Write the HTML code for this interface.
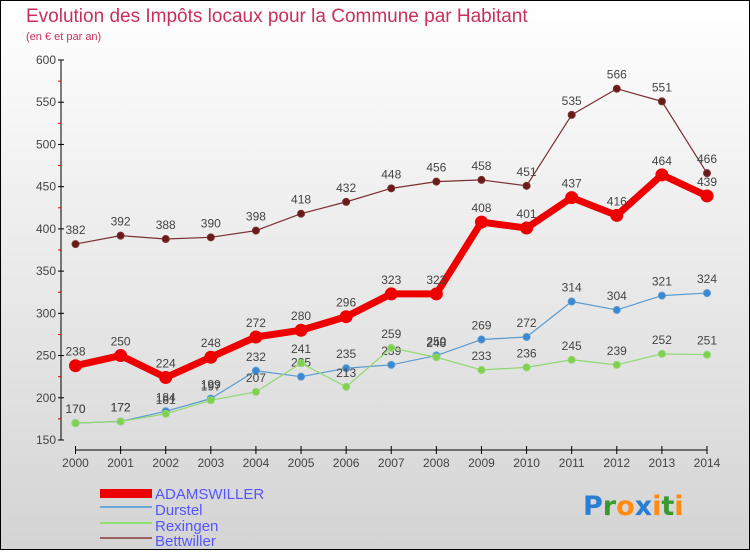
<!DOCTYPE html>
<html><head><meta charset="utf-8"><style>
body{margin:0}
#c{width:750px;height:550px;position:relative;font-family:"Liberation Sans",sans-serif}
</style></head><body>
<div id="c">
<svg width="750" height="550" id="svg">
<defs><linearGradient id="bg" x1="0" y1="0" x2="0" y2="1"><stop offset="0" stop-color="#ffffff"/><stop offset="1" stop-color="#d4d4d4"/></linearGradient></defs>
<rect x="0.5" y="0.5" width="749" height="549" fill="url(#bg)" stroke="#000"/>
<text x="26" y="22" font-size="19" fill="#c8305a">Evolution des Impôts locaux pour la Commune par Habitant</text>
<text x="26" y="40" font-size="11" fill="#c8305a">(en € et par an)</text>
<g id="axes"></g><g id="plot"></g>
<g>
<rect x="100" y="489" width="52" height="9" fill="#ee0000"/>
<text x="155" y="499" font-size="15" fill="#5555ff">ADAMSWILLER</text>
<line x1="100" y1="507" x2="152" y2="507" stroke="#6aa8d8" stroke-width="2"/>
<text x="155" y="515" font-size="15" fill="#5555ff">Durstel</text>
<line x1="100" y1="523" x2="152" y2="523" stroke="#90dd70" stroke-width="2"/>
<text x="155" y="531" font-size="15" fill="#5555ff">Rexingen</text>
<line x1="100" y1="538" x2="152" y2="538" stroke="#9a6060" stroke-width="2"/>
<text x="155" y="546" font-size="15" fill="#5555ff">Bettwiller</text>
</g>
<g font-size="27" font-weight="bold" font-family="DejaVu Sans,sans-serif">
<text x="583" y="515"><tspan fill="#2a7fd4">P</tspan><tspan fill="#3a9a30">r</tspan><tspan fill="#ff8c10">o</tspan><tspan fill="#2a7fd4">x</tspan><tspan fill="#ff8c10">i</tspan><tspan fill="#3a9a30">t</tspan><tspan fill="#ff8c10">i</tspan></text>
</g>
</svg></div>
<script>
const years=[2000,2001,2002,2003,2004,2005,2006,2007,2008,2009,2010,2011,2012,2013,2014];
const adamswiller=[238,250,224,248,272,280,296,323,323,408,401,437,416,464,439];
const durstel=[170,172,184,199,232,225,235,239,250,269,272,314,304,321,324];
const rexingen=[170,172,181,197,207,241,213,259,248,233,236,245,239,252,251];
const bettwiller=[382,392,388,390,398,418,432,448,456,458,451,535,566,551,466];
const yTicks=[150,200,250,300,350,400,450,500,550,600];
const NS='http://www.w3.org/2000/svg';
const X=i=>75.5+i*(707-75.5)/14;
const Y=v=>440-(v-150)*(380/450);
function mk(tag,attrs,parent,txt){const e=document.createElementNS(NS,tag);for(const k in attrs)e.setAttribute(k,attrs[k]);if(txt!==undefined)e.textContent=txt;parent.appendChild(e);return e;}
const ax=document.getElementById('axes'),pl=document.getElementById('plot');
let e=mk('line',{x1:61,y1:Y(600),x2:61,y2:Y(150),stroke:'#000'},ax);


yTicks.forEach((t,i)=>{
 mk('line',{x1:58,y1:Y(t),x2:64,y2:Y(t),stroke:'#000'},ax);
 let l=mk('text',{x:56,y:Y(t)+4,'font-size':12,fill:'#444','text-anchor':'end'},ax,t);
 
 
 if(i<yTicks.length-1)mk('line',{x1:58,y1:Y(t+25),x2:61,y2:Y(t+25),stroke:'#d00'},ax);
});
e=mk('line',{x1:75.5,y1:450,x2:707,y2:450,stroke:'#000'},ax);


years.forEach((y,i)=>{
 mk('line',{x1:X(i),y1:446,x2:X(i),y2:454,stroke:'#000'},ax);
 let l=mk('text',{x:X(i),y:467,'font-size':12,fill:'#444','text-anchor':'middle'},ax,y);
 
 
});
function series(name,data,color,w,r,fill){
 const g=mk('g',{},pl);
 
 
 const p=mk('polyline',{points:data.map((v,i)=>X(i)+','+Y(v)).join(' '),fill:'none',stroke:color,'stroke-width':w,'stroke-linejoin':'round'},g);
 
 
 data.forEach((v,i)=>{
  const c=mk('circle',{cx:X(i),cy:Y(v),r:r,fill:fill,stroke:color,'stroke-width':1},g);
  
  
  const t=mk('text',{x:X(i),y:Y(v)-10,'font-size':12,fill:'#444','text-anchor':'middle'},g,v);
  
  
 });
}
series('bettwiller',bettwiller,'#7a3030',1.2,3.5,'#6a1a1a');
series('durstel',durstel,'#5a9ad0',1.2,3.5,'#3a88d0');
series('rexingen',rexingen,'#90d870',1.2,3.5,'#80d050');
series('adamswiller',adamswiller,'#ee0000',7,6,'#ee0000');
</script>
</body></html>
